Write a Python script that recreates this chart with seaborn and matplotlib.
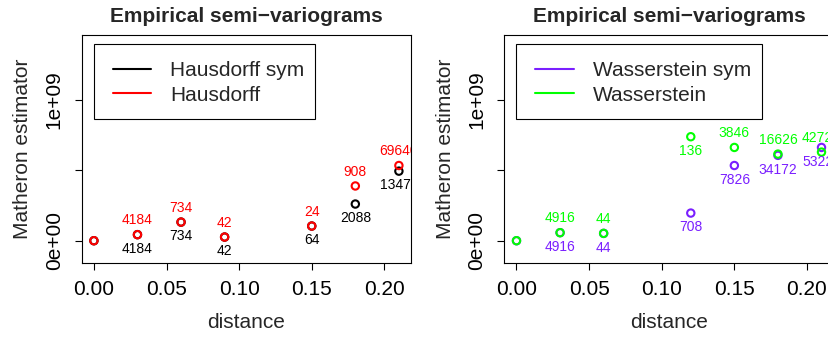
import matplotlib
matplotlib.use("Agg")
import matplotlib.pyplot as plt
from matplotlib.lines import Line2D
from matplotlib.patches import Rectangle
import seaborn as sns
import pandas as pd

# ---------------- data ----------------
haus_dist = [0.0, 0.03, 0.06, 0.09, 0.15, 0.18, 0.21]
haus_sym_vals = [0.0, 0.043e9, 0.132e9, 0.026e9, 0.104e9, 0.260e9, 0.493e9]
haus_vals = [0.0, 0.043e9, 0.132e9, 0.026e9, 0.104e9, 0.388e9, 0.533e9]
haus_sym_n = ["", "4184", "734", "42", "64", "2088", "13470"]
haus_n = ["", "4184", "734", "42", "24", "908", "69640"]

wass_dist = [0.0, 0.03, 0.06, 0.12, 0.15, 0.18, 0.21]
wass_sym_vals = [0.0, 0.057e9, 0.052e9, 0.196e9, 0.533e9, 0.605e9, 0.661e9]
wass_vals = [0.0, 0.057e9, 0.052e9, 0.737e9, 0.661e9, 0.614e9, 0.628e9]
wass_sym_n = ["", "4916", "44", "708", "7826", "34172", "53220"]
wass_n = ["", "4916", "44", "136", "3846", "16626", "42720"]
wass_n_side = ["up", "up", "up", "down", "up", "up", "up"]

x_ticks = [0.0, 0.05, 0.10, 0.15, 0.20]
x_ticklabels = ["0.00", "0.05", "0.10", "0.15", "0.20"]
y_ticks = [0.0, 5e8, 1e9]
y_ticklabels = ["0e+00", "", "1e+09"]

title = "Empirical semi\u2212variograms"
xlabel = "distance"
ylabel = "Matheron estimator"

C_BLACK = "#000000"
C_RED = "#FF0000"
C_PURPLE = "#7A1FFF"
C_GREEN = "#00FF00"

# ---------------- style ----------------
sns.set_style("white")
plt.rcParams["font.family"] = ["Liberation Sans", "DejaVu Sans"]
plt.rcParams["axes.unicode_minus"] = True

W, H = 829, 338
fig = plt.figure(figsize=(W / 100, H / 100), dpi=100)


def frac(x0, y0, x1, y1):
    return [x0 / W, 1 - y1 / H, (x1 - x0) / W, (y1 - y0) / H]


ax1 = fig.add_axes(frac(81.7, 34.7, 411.1, 263.3))
ax2 = fig.add_axes(frac(504.3, 34.7, 833.7, 263.3))


def panel(ax, dist, v_sym, v, n_sym, n, sides, name_sym, name, c_sym, c):
    df = pd.DataFrame({
        "distance": list(dist) + list(dist),
        "value": list(v_sym) + list(v),
        "series": [name_sym] * len(dist) + [name] * len(dist),
    })
    sns.scatterplot(data=df, x="distance", y="value", hue="series",
                    hue_order=[name_sym, name],
                    palette={name_sym: c_sym, name: c}, s=28, marker="o",
                    linewidth=1.5, legend=False, ax=ax, clip_on=True, zorder=3)
    for coll in ax.collections:
        fc = coll.get_facecolors()
        coll.set_edgecolors(fc)
        coll.set_facecolors("none")

    off = 10.3
    for xi, yi, lab in zip(dist, v_sym, n_sym):
        if lab:
            ax.annotate(lab, (xi, yi), xytext=(0, -off), textcoords="offset points",
                        ha="center", va="center", fontsize=10, color=c_sym,
                        annotation_clip=False, clip_on=True)
    for xi, yi, lab, sd in zip(dist, v, n, sides):
        if lab:
            dy = off if sd == "up" else -off
            ax.annotate(lab, (xi, yi), xytext=(0, dy), textcoords="offset points",
                        ha="center", va="center", fontsize=10, color=c,
                        annotation_clip=False, clip_on=True)

    ax.set_xlim(-0.0084, 0.2184)
    ax.set_ylim(-1.6e8, 1.46e9)
    ax.set_xticks(x_ticks, x_ticklabels)
    ax.set_yticks(y_ticks, y_ticklabels)
    ax.tick_params(axis="both", direction="out", length=5, width=0.8,
                   color="black", labelsize=15, labelcolor="black",
                   bottom=True, left=True)
    ax.tick_params(axis="x", pad=7)
    ax.tick_params(axis="y", pad=8)
    for t in ax.get_yticklabels():
        t.set_rotation(90)
        t.set_va("center")
    for sp in ax.spines.values():
        sp.set_color("black")
        sp.set_linewidth(0.8)
    ax.set_xlabel(xlabel, fontsize=15, labelpad=10)
    ax.set_ylabel(ylabel, fontsize=15, labelpad=9)
    ax.set_title(title, fontsize=15, fontweight="bold", pad=9)

    handles = [Line2D([], [], color=c_sym, lw=1.5), Line2D([], [], color=c, lw=1.5)]
    return handles


h1 = panel(ax1, haus_dist, haus_sym_vals, haus_vals, haus_sym_n, haus_n,
           ["up"] * len(haus_dist), "Hausdorff sym", "Hausdorff", C_BLACK, C_RED)
h2 = panel(ax2, wass_dist, wass_sym_vals, wass_vals, wass_sym_n, wass_n,
           wass_n_side, "Wasserstein sym", "Wasserstein", C_PURPLE, C_GREEN)


def legend_box(ax, handles, labels, box_w):
    leg = ax.legend(handles, labels, loc="upper left", bbox_to_anchor=(0.094, 0.883),
                    frameon=False, fontsize=15, borderpad=0, borderaxespad=0,
                    handlelength=1.86, handletextpad=0.89, labelspacing=0.25)
    ax.add_patch(Rectangle((0.0364, 0.631), box_w, 0.3296, transform=ax.transAxes,
                           fill=False, edgecolor="black", linewidth=0.8, zorder=5))
    return leg


legend_box(ax1, h1, ["Hausdorff sym", "Hausdorff"], 0.6728)
legend_box(ax2, h2, ["Wasserstein sym", "Wasserstein"], 0.746)

fig.savefig("out.png", dpi=100)
